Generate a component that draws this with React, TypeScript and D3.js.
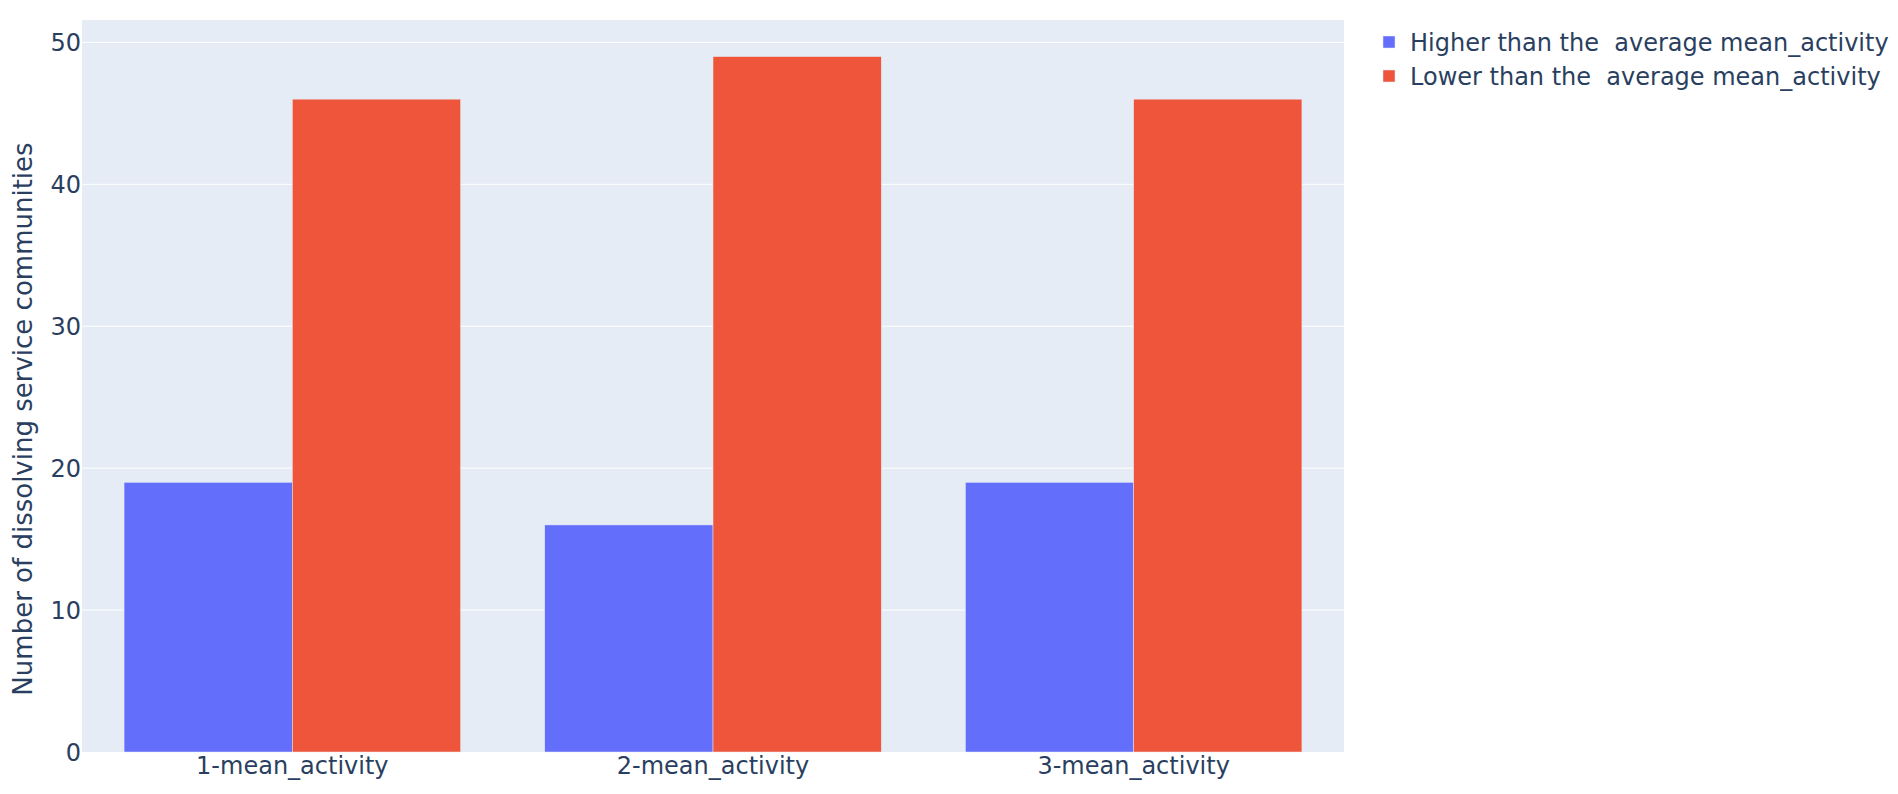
import React from "react";
import * as d3 from "d3";

const categories = ["1-mean_activity", "2-mean_activity", "3-mean_activity"];
const seriesNames = [
  "Higher than the  average mean_activity",
  "Lower than the  average mean_activity",
];
const higherValues = [19, 16, 19];
const lowerValues = [46, 49, 46];
const yTicks = [0, 10, 20, 30, 40, 50];
const colors = ["#636efa", "#EF553B"];

const W = 1898;
const H = 794;
const plot = { left: 82, right: 1344, top: 20, bottom: 752 };
const FONT = "'DejaVu Sans', Verdana, sans-serif";
const TEXT = "#2a3f5f";

export default function App() {
  const series = [higherValues, lowerValues];
  const maxVal = d3.max(series.flat()) as number;
  const y = d3
    .scaleLinear()
    .domain([0, maxVal * 1.0526])
    .range([plot.bottom, plot.top]);
  const x = d3
    .scaleBand<string>()
    .domain(categories)
    .range([plot.left, plot.right])
    .paddingInner(0.2)
    .paddingOuter(0.1);
  const xs = d3
    .scaleBand<number>()
    .domain(series.map((_, i) => i))
    .range([0, x.bandwidth()]);

  return (
    <svg
      width={W}
      height={H}
      style={{ position: "absolute", left: 0, top: 0, background: "#fff" }}
      fontFamily={FONT}
    >
      <rect
        x={plot.left}
        y={plot.top}
        width={plot.right - plot.left}
        height={plot.bottom - plot.top}
        fill="#E5ECF6"
      />
      {yTicks.slice(1).map((t) => (
        <line
          key={t}
          x1={plot.left}
          x2={plot.right}
          y1={y(t)}
          y2={y(t)}
          stroke="#fff"
          strokeWidth={1}
        />
      ))}
      {series.map((vals, si) =>
        vals.map((v, ci) => (
          <rect
            key={`${si}-${ci}`}
            x={(x(categories[ci]) as number) + (xs(si) as number)}
            y={y(v)}
            width={xs.bandwidth()}
            height={y(0) - y(v)}
            fill={colors[si]}
            stroke="#E5ECF6"
            strokeWidth={0.5}
          />
        ))
      )}
      {yTicks.map((t) => (
        <text
          key={t}
          x={plot.left - 1}
          y={y(t)}
          dy="0.36em"
          textAnchor="end"
          fontSize={24}
          fill={TEXT}
        >
          {t}
        </text>
      ))}
      {categories.map((c) => (
        <text
          key={c}
          x={(x(c) as number) + x.bandwidth() / 2}
          y={plot.bottom + 22}
          textAnchor="middle"
          fontSize={24}
          fill={TEXT}
        >
          {c}
        </text>
      ))}
      <text
        transform={`translate(32, 419) rotate(-90)`}
        textAnchor="middle"
        fontSize={26}
        fill={TEXT}
      >
        Number of dissolving service communities
      </text>
      {seriesNames.map((n, i) => (
        <g key={n} transform={`translate(1383, ${42 + i * 34})`}>
          <rect x={0} y={-6} width={12} height={12} fill={colors[i]} stroke="#E5ECF6" strokeWidth={0.5} />
          <text
            x={27}
            y={0}
            dy="0.36em"
            fontSize={24}
            fill={TEXT}
            style={{ whiteSpace: "pre" }}
          >
            {n}
          </text>
        </g>
      ))}
    </svg>
  );
}
